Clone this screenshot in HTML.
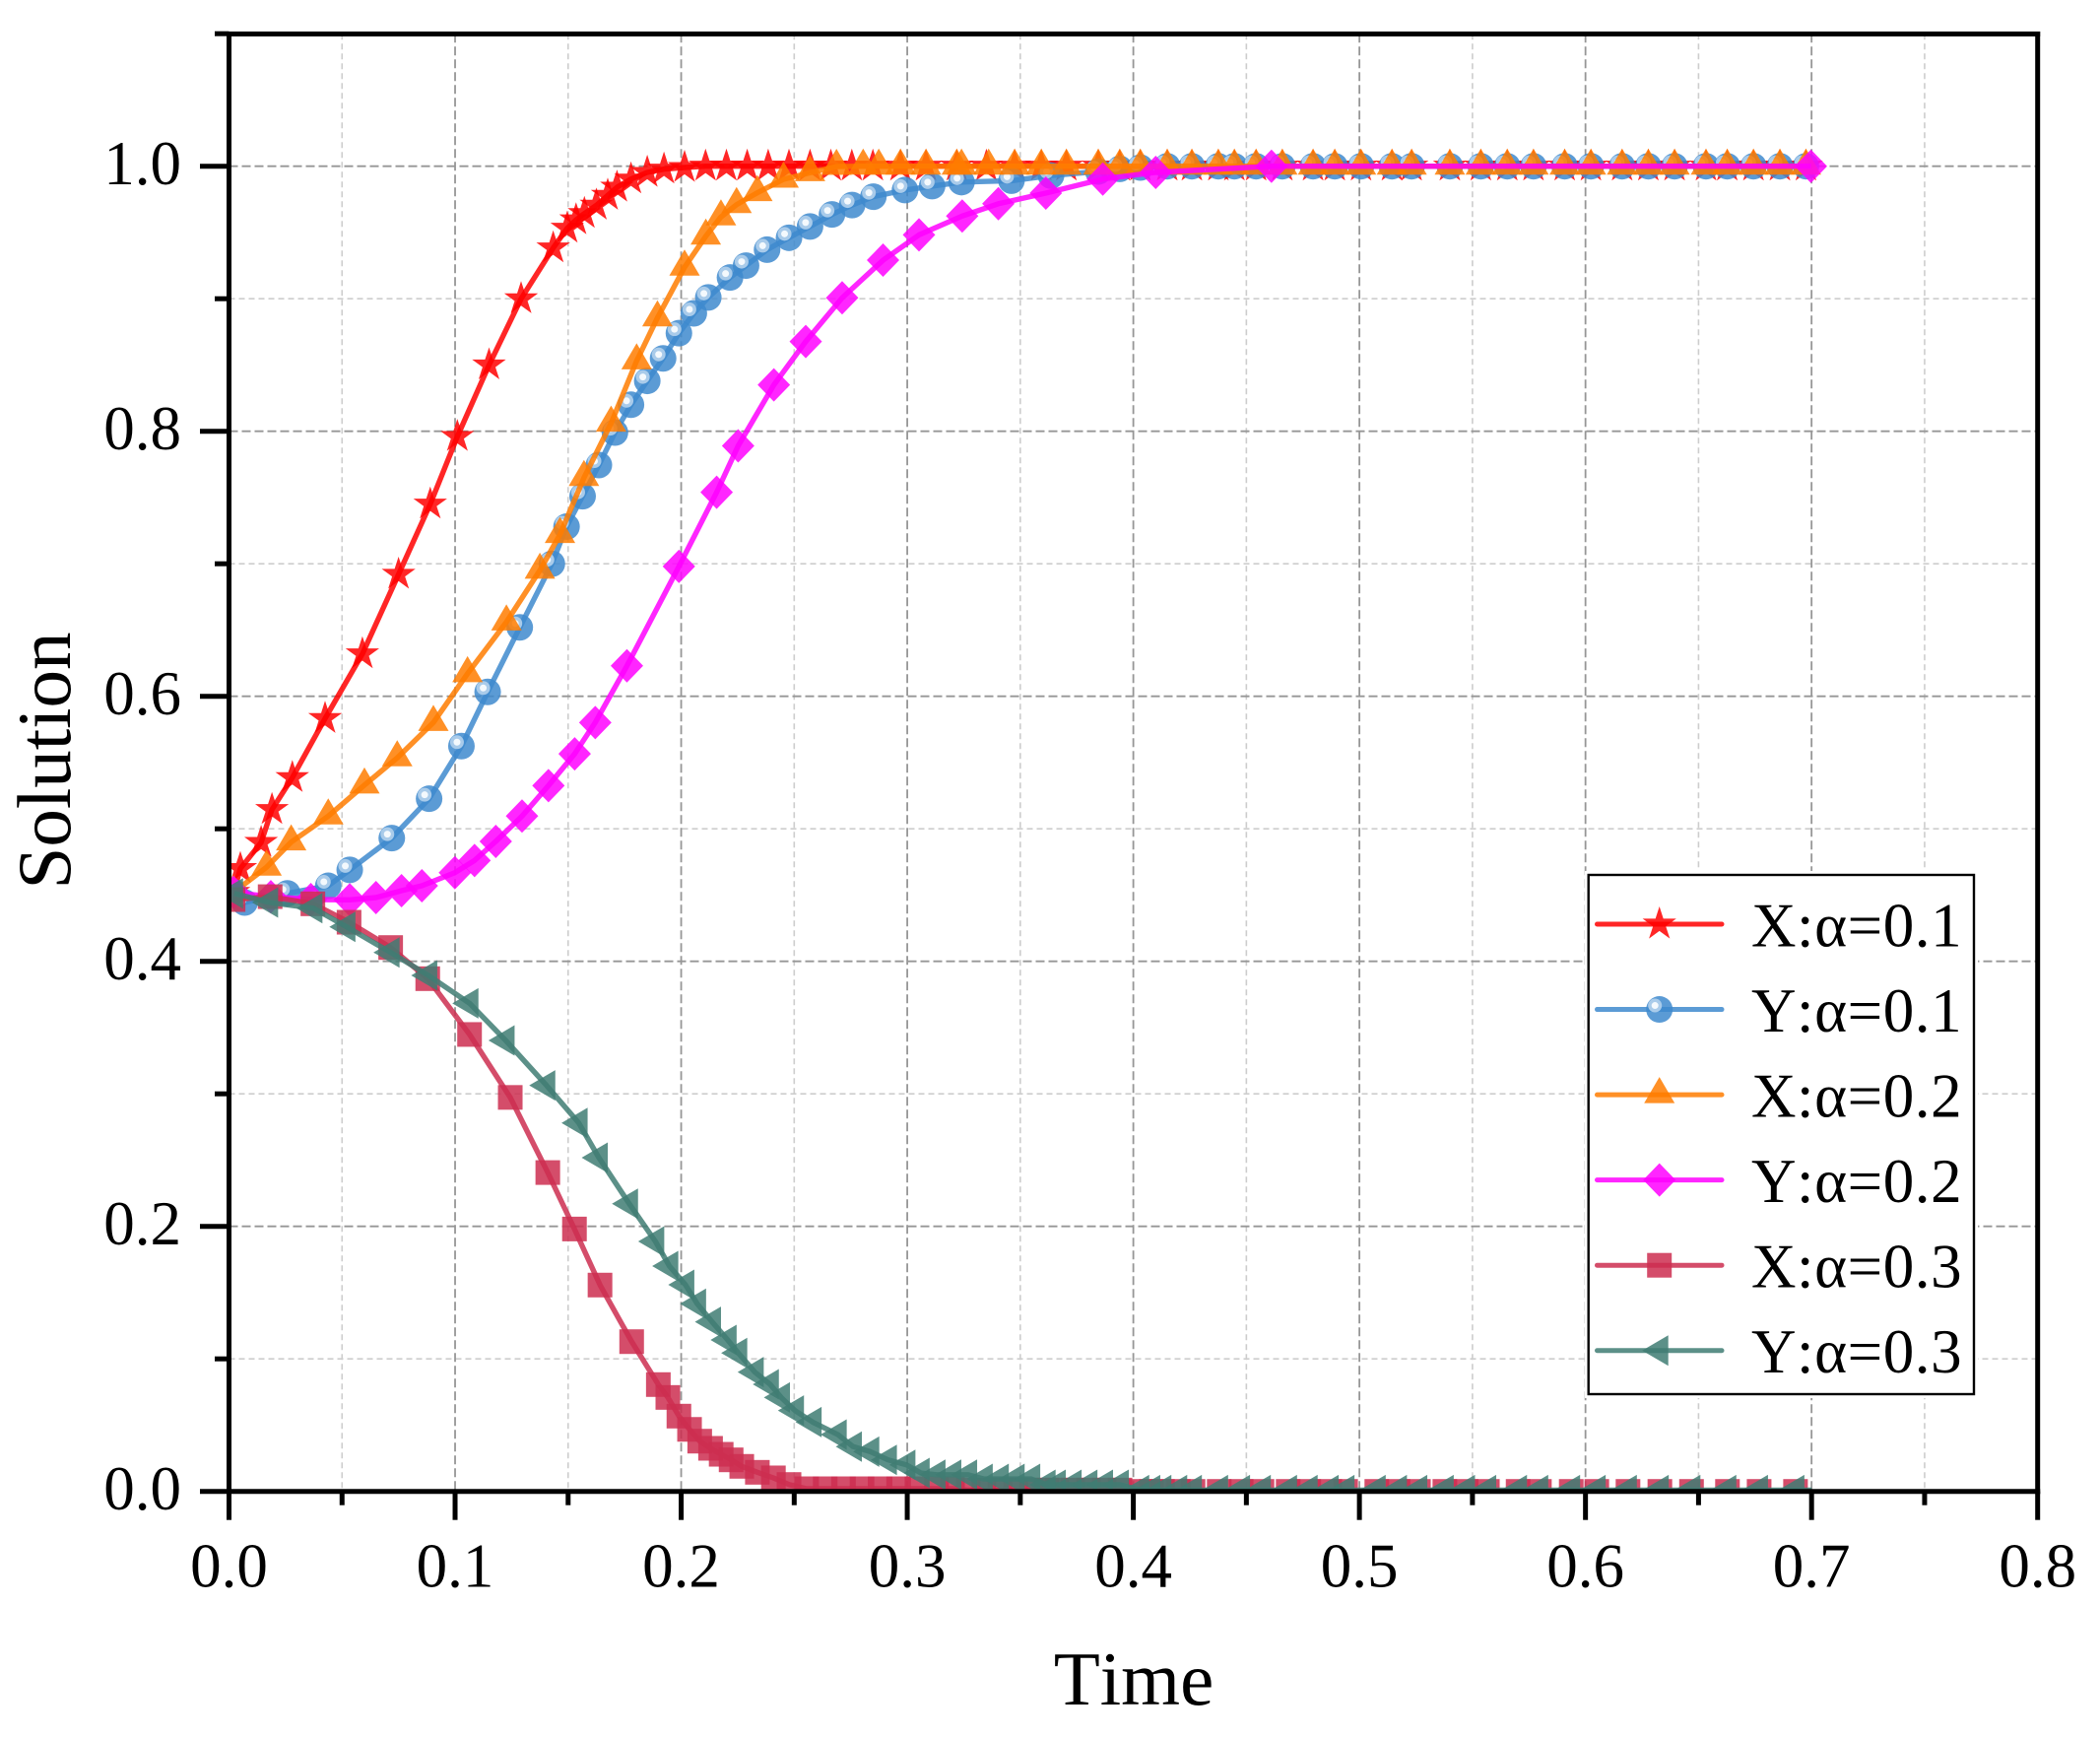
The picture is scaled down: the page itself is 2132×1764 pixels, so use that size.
<!DOCTYPE html>
<html lang="en">
<head>
<meta charset="utf-8">
<title>Solution vs Time</title>
<style>
html,body{margin:0;padding:0;background:#fff;}
svg{display:block;}
text{font-family:"Liberation Serif","DejaVu Serif",serif;fill:#000;font-kerning:none;}
.lg{letter-spacing:0.55px;}
</style>
</head>
<body>
<svg id="chart" xmlns="http://www.w3.org/2000/svg" width="2132" height="1764" viewBox="0 0 2132 1764">
  <rect x="0" y="0" width="2132" height="1764" fill="#ffffff"/>
  <defs><clipPath id="plot-clip"><rect x="232.5" y="34.5" width="1836.2" height="1479.2"/></clipPath></defs>
  <g id="grid"></g>
  <g id="series" clip-path="url(#plot-clip)"></g>
  <g id="axes"></g>
  <text x="1151" y="1730" font-size="77" text-anchor="middle">Time</text>
  <text transform="translate(71 772) rotate(-90)" font-size="77" text-anchor="middle">Solution</text>
  <g id="legend">
    <rect x="1609" y="884" width="399" height="535" fill="#ffffff"/>
    <rect x="1612.7" y="888" width="391.3" height="527" fill="#ffffff" stroke="#000000" stroke-width="2.4"/>
    <text class="lg" x="1778" y="960.5" font-size="63">X:α=0.1</text>
    <text class="lg" x="1778" y="1047" font-size="63">Y:α=0.1</text>
    <text class="lg" x="1778" y="1133.5" font-size="63">X:α=0.2</text>
    <text class="lg" x="1778" y="1220" font-size="63">Y:α=0.2</text>
    <text class="lg" x="1778" y="1306.5" font-size="63">X:α=0.3</text>
    <text class="lg" x="1778" y="1393" font-size="63">Y:α=0.3</text>
  </g>
</svg>
<script>
const xTickLabels = ["0.0","0.1","0.2","0.3","0.4","0.5","0.6","0.7","0.8"];
const yTickLabels = ["0.0","0.2","0.4","0.6","0.8","1.0"];
const xMinorTicks = [0.05,0.15,0.25,0.35,0.45,0.55,0.65,0.75];
const yMinorTicks = [0.1,0.3,0.5,0.7,0.9,1.1];

const x1Time = [0.002,0.005,0.0142,0.019,0.028,0.0425,0.059,0.075,0.089,0.101,0.115,0.1292,0.1434,0.1496,0.1535,0.1572,0.1625,0.1675,0.1716,0.1778,0.185,0.1924,0.2015,0.2108,0.22,0.2292,0.2385,0.2477,0.257,0.2662,0.2755,0.2848,0.297,0.3083,0.3219,0.335,0.3475,0.3593,0.3704,0.3845,0.394,0.4031,0.415,0.4259,0.4376,0.4447,0.4543,0.4659,0.4795,0.4891,0.5007,0.5144,0.5231,0.54,0.5537,0.5654,0.577,0.5908,0.6024,0.6162,0.6278,0.6394,0.6533,0.6627,0.6743,0.686,0.6975,0.7];
const x1Values = [0.452,0.47,0.4897,0.5145,0.5386,0.5832,0.632,0.692,0.745,0.796,0.85,0.8999,0.9383,0.9532,0.9595,0.9643,0.9705,0.978,0.9841,0.9903,0.9953,0.9978,0.999,1,1,1,1,1,1,1,1,1,1,1,1,1,1,1,1,1,1,1,1,1,1,1,1,1,1,1,1,1,1,1,1,1,1,1,1,1,1,1,1,1,1,1,1,1];

const y1Time = [0.002,0.0069,0.0258,0.0439,0.0534,0.072,0.0885,0.1028,0.1144,0.1286,0.1428,0.1493,0.1564,0.1636,0.1707,0.1778,0.185,0.192,0.199,0.2056,0.212,0.2216,0.2287,0.238,0.2477,0.257,0.2667,0.2756,0.285,0.299,0.311,0.324,0.3461,0.3636,0.3845,0.394,0.4031,0.415,0.4259,0.4376,0.4447,0.4543,0.4659,0.4795,0.4891,0.5007,0.5144,0.5231,0.54,0.5537,0.5654,0.577,0.5908,0.6024,0.6162,0.6278,0.6394,0.6533,0.6627,0.6743,0.686,0.6975,0.7];
const y1Values = [0.452,0.4444,0.4513,0.457,0.469,0.493,0.5227,0.5624,0.6033,0.652,0.70,0.728,0.751,0.7745,0.799,0.82,0.838,0.855,0.874,0.889,0.901,0.916,0.925,0.937,0.946,0.9545,0.9636,0.9707,0.977,0.982,0.985,0.988,0.9891,0.9929,0.996,0.998,0.999,1,1,1,1,1,1,1,1,1,1,1,1,1,1,1,1,1,1,1,1,1,1,1,1,1,1];

const x2Time = [0.002,0.0166,0.0275,0.0439,0.0599,0.0744,0.0904,0.1055,0.1227,0.1375,0.1464,0.157,0.169,0.1803,0.1895,0.2015,0.2109,0.2176,0.2245,0.2337,0.2453,0.257,0.2687,0.2805,0.2874,0.297,0.3083,0.3219,0.324,0.336,0.3475,0.3593,0.3704,0.3845,0.394,0.4031,0.415,0.4259,0.4376,0.4447,0.4543,0.4659,0.4795,0.4891,0.5007,0.5144,0.5231,0.54,0.5537,0.5654,0.577,0.5908,0.6024,0.6162,0.6278,0.6394,0.6533,0.6627,0.6743,0.686,0.6975,0.7];
const x2Values = [0.452,0.471,0.49,0.5096,0.533,0.5535,0.5802,0.617,0.656,0.695,0.722,0.765,0.806,0.853,0.8855,0.9238,0.9472,0.9617,0.971,0.98,0.9901,0.995,0.9998,1,1,1,1,1,1,1,1,1,1,1,1,1,1,1,1,1,1,1,1,1,1,1,1,1,1,1,1,1,1,1,1,1,1,1,1,1,1,1];

const y2Time = [0.002,0.0185,0.0362,0.0534,0.065,0.0763,0.0853,0.0999,0.1086,0.118,0.1296,0.1413,0.1529,0.162,0.176,0.199,0.2157,0.2252,0.241,0.2551,0.2712,0.2893,0.3052,0.3243,0.3403,0.3613,0.3865,0.4099,0.4611,0.6997];
const y2Values = [0.452,0.4488,0.4466,0.4464,0.4481,0.4533,0.457,0.4669,0.4761,0.4905,0.5096,0.5326,0.5566,0.5802,0.623,0.698,0.754,0.789,0.835,0.8677,0.9007,0.9291,0.9482,0.9624,0.9717,0.9797,0.9903,0.9953,1,1];

const x3Time = [0.0018,0.0182,0.0371,0.0531,0.0715,0.0879,0.1064,0.1244,0.141,0.1528,0.1641,0.1781,0.1899,0.1941,0.199,0.2037,0.2082,0.213,0.2177,0.2221,0.2268,0.2337,0.2408,0.2477,0.2555,0.2637,0.2718,0.28,0.288,0.2962,0.3043,0.313,0.32,0.327,0.3339,0.341,0.348,0.3549,0.3617,0.3662,0.3732,0.3802,0.3871,0.3941,0.4031,0.408,0.4129,0.4199,0.4264,0.438,0.4477,0.4569,0.4685,0.4776,0.4869,0.4939,0.5077,0.5171,0.5261,0.5378,0.5472,0.5566,0.5702,0.5796,0.5937,0.605,0.6188,0.6329,0.6469,0.6628,0.6768,0.6929,0.7];
const x3Values = [0.4466,0.4488,0.4434,0.4295,0.4104,0.3869,0.3448,0.2973,0.2406,0.198,0.1557,0.113,0.0806,0.0709,0.0568,0.0468,0.0379,0.0325,0.028,0.0238,0.0189,0.0144,0.0102,0.0052,0.002,0.002,0.002,0.002,0.002,0.002,0.002,0.002,0.002,0.001,0.001,0.001,0.001,0.001,0.001,0.001,0.001,0.001,0.001,0.001,0,0,0,0,0,0,0,0,0,0,0,0,0,0,0,0,0,0,0,0,0,0,0,0,0,0,0,0,0];

const y3Time = [0.0023,0.0178,0.0374,0.052,0.0715,0.0882,0.1064,0.1224,0.1404,0.1547,0.1636,0.177,0.1886,0.1948,0.2019,0.2071,0.2137,0.2206,0.2253,0.2326,0.2393,0.2442,0.2504,0.2582,0.2693,0.276,0.2837,0.2915,0.2997,0.306,0.313,0.32,0.327,0.3339,0.341,0.348,0.3549,0.3617,0.3662,0.3732,0.3802,0.3871,0.3941,0.4031,0.408,0.4129,0.4199,0.4264,0.438,0.4477,0.4569,0.4685,0.4776,0.4869,0.4939,0.5077,0.5171,0.5261,0.5378,0.5472,0.5566,0.5702,0.5796,0.5937,0.605,0.6188,0.6329,0.6469,0.6628,0.6768,0.6929,0.7];
const y3Values = [0.4513,0.4444,0.4401,0.426,0.4067,0.3894,0.3683,0.3403,0.3064,0.278,0.2518,0.2171,0.1886,0.17,0.1559,0.1416,0.1279,0.1143,0.1044,0.09,0.0808,0.0709,0.061,0.0523,0.0429,0.0338,0.03,0.0238,0.02,0.0139,0.0126,0.0126,0.0126,0.0094,0.0094,0.0094,0.0094,0.005,0.005,0.005,0.005,0.005,0.005,0.001,0.001,0.001,0.001,0.001,0.001,0.001,0.001,0.001,0.001,0.001,0.001,0.001,0.001,0.001,0.001,0.001,0.001,0.001,0.001,0.001,0.001,0.001,0.001,0.001,0.001,0.001,0.001,0.001];

const seriesNames = ["x-alpha-0-1","y-alpha-0-1","x-alpha-0-2","y-alpha-0-2","x-alpha-0-3","y-alpha-0-3"];
const seriesColors = ["#ff0000","#3e89ce","#ff7c00","#ff00ff","#cc2e50","#3f7c73"];
const seriesShapes = ["star","ball","triangle","diamond","square","left"];
const seriesTimes = [x1Time,y1Time,x2Time,y2Time,x3Time,y3Time];
const seriesValues = [x1Values,y1Values,x2Values,y2Values,x3Values,y3Values];

const SVGNS = "http://www.w3.org/2000/svg";
const X0 = 232.5, XPER = 2295.25, Y0 = 1513.7, YPER = 1345;
function xScale(v){ return X0 + v * XPER; }
function yScale(v){ return Y0 - v * YPER; }
function mk(tag, parent){ const el = document.createElementNS(SVGNS, tag); parent.appendChild(el); return el; }

const grid = document.getElementById('grid');
const axes = document.getElementById('axes');
const seriesLayer = document.getElementById('series');
const legendGroup = document.getElementById('legend');

function gridLine(x1,y1,x2,y2,major){
  const l = mk('line', grid);
  
  
  l.setAttribute('x1',x1); l.setAttribute('y1',y1); l.setAttribute('x2',x2); l.setAttribute('y2',y2);
  l.setAttribute('stroke', major ? '#969696' : '#cdcdcd');
  l.setAttribute('stroke-width', major ? 1.8 : 1.6);
  l.setAttribute('stroke-dasharray', major ? '9 4' : '6 4');
}
function axisLine(x1,y1,x2,y2,name){
  const l = mk('line', axes);
  
  
  l.setAttribute('x1',x1); l.setAttribute('y1',y1); l.setAttribute('x2',x2); l.setAttribute('y2',y2);
  l.setAttribute('stroke', '#000');
  l.setAttribute('stroke-width', 5);
}

xMinorTicks.forEach(function(v){
  gridLine(xScale(v), yScale(1.1), xScale(v), Y0, false);
  axisLine(xScale(v), Y0, xScale(v), Y0 + 14, 'x-minor-tick');
});
yMinorTicks.forEach(function(v){
  gridLine(X0, yScale(v), X0 + 1836.2, yScale(v), false);
  axisLine(X0 - 14.5, yScale(v), X0, yScale(v), 'y-minor-tick');
});
xTickLabels.forEach(function(lab){
  const v = parseFloat(lab);
  if (v > 0 && v < 0.8) gridLine(xScale(v), yScale(1.1), xScale(v), Y0, true);
  axisLine(xScale(v), Y0, xScale(v), Y0 + 29, 'x-major-tick');
  const t = mk('text', axes);
  
  
  t.setAttribute('x', xScale(v));
  t.setAttribute('y', 1610.7);
  t.setAttribute('font-size', 63);
  t.setAttribute('text-anchor', 'middle');
  t.textContent = lab;
});
yTickLabels.forEach(function(lab){
  const v = parseFloat(lab);
  if (v > 0) gridLine(X0, yScale(v), X0 + 1836.2, yScale(v), true);
  axisLine(X0 - 29.5, yScale(v), X0, yScale(v), 'y-major-tick');
  const t = mk('text', axes);
  
  
  t.setAttribute('x', 184);
  t.setAttribute('y', yScale(v) + 18.5);
  t.setAttribute('font-size', 63);
  t.setAttribute('text-anchor', 'end');
  t.textContent = lab;
});
axisLine(X0, 32, X0, Y0 + 2.5, 'y-axis-line');
axisLine(2068.7, 32, 2068.7, Y0 + 2.5, 'right-axis-line');
axisLine(X0 - 2.5, 34.5, 2071.2, 34.5, 'top-axis-line');
axisLine(X0 - 2.5, Y0, 2071.2, Y0, 'x-axis-line');

function starPoints(cx, cy, R){
  const pts = [];
  for (let i = 0; i < 10; i++){
    const r = i % 2 === 0 ? R : R * 0.382;
    const a = -Math.PI / 2 + i * Math.PI / 5;
    pts.push((cx + r * Math.cos(a)).toFixed(1) + ',' + (cy + r * Math.sin(a)).toFixed(1));
  }
  return pts.join(' ');
}
function drawMarker(parent, shape, cx, cy, color, name){
  let el;
  if (shape === 'ball'){
    el = mk('circle', parent);
    el.setAttribute('cx', cx); el.setAttribute('cy', cy); el.setAttribute('r', 13.5);
  } else if (shape === 'square'){
    el = mk('rect', parent);
    el.setAttribute('x', cx - 12.5); el.setAttribute('y', cy - 12.5);
    el.setAttribute('width', 25); el.setAttribute('height', 25);
  } else {
    el = mk('polygon', parent);
    let pts = '';
    if (shape === 'star') pts = starPoints(cx, cy, 18);
    if (shape === 'triangle') pts = cx + ',' + (cy - 18) + ' ' + (cx + 15.5) + ',' + (cy + 8.5) + ' ' + (cx - 15.5) + ',' + (cy + 8.5);
    if (shape === 'diamond') pts = cx + ',' + (cy - 17) + ' ' + (cx + 16.5) + ',' + cy + ' ' + cx + ',' + (cy + 17) + ' ' + (cx - 16.5) + ',' + cy;
    if (shape === 'left') pts = (cx - 17.5) + ',' + cy + ' ' + (cx + 9) + ',' + (cy - 15.5) + ' ' + (cx + 9) + ',' + (cy + 15.5);
    el.setAttribute('points', pts);
  }
  
  
  el.setAttribute('fill', color);
  el.setAttribute('fill-opacity', 0.85);
  if (shape === 'ball'){
    const ring = mk('circle', parent);
    
    
    ring.setAttribute('cx', cx - 4.5); ring.setAttribute('cy', cy - 4); ring.setAttribute('r', 7);
    ring.setAttribute('fill', '#a9cbea');
    const dot = mk('circle', parent);
    
    
    dot.setAttribute('cx', cx - 4.5); dot.setAttribute('cy', cy - 4); dot.setAttribute('r', 3.5);
    dot.setAttribute('fill', '#f4f9fd');
  }
}

seriesNames.forEach(function(name, s){
  const g = mk('g', seriesLayer);
  
  
  const times = seriesTimes[s], vals = seriesValues[s];
  const pts = times.map(function(t, i){ return xScale(t).toFixed(1) + ',' + yScale(vals[i]).toFixed(1); });
  const line = mk('polyline', g);
  
  
  line.setAttribute('points', pts.join(' '));
  line.setAttribute('fill', 'none');
  line.setAttribute('stroke', seriesColors[s]);
  line.setAttribute('stroke-opacity', 0.85);
  line.setAttribute('stroke-width', 5.4);
  line.setAttribute('stroke-linejoin', 'round');
  times.forEach(function(t, i){
    if (i === times.length - 1 && t === 0.7) return;
    drawMarker(g, seriesShapes[s], xScale(t), yScale(vals[i]), seriesColors[s], 'point-' + name);
  });
  const rowY = 938 + s * 86.55;
  const lg = mk('g', legendGroup);
  
  
  const ll = mk('line', lg);
  
  
  ll.setAttribute('x1', 1621.5); ll.setAttribute('x2', 1748); ll.setAttribute('y1', rowY); ll.setAttribute('y2', rowY);
  ll.setAttribute('stroke', seriesColors[s]);
  ll.setAttribute('stroke-opacity', 0.85);
  ll.setAttribute('stroke-width', 5);
  ll.setAttribute('stroke-linecap', 'round');
  drawMarker(lg, seriesShapes[s], 1684.7, rowY, seriesColors[s], 'legend-marker-' + name);
});
</script>
</body>
</html>
